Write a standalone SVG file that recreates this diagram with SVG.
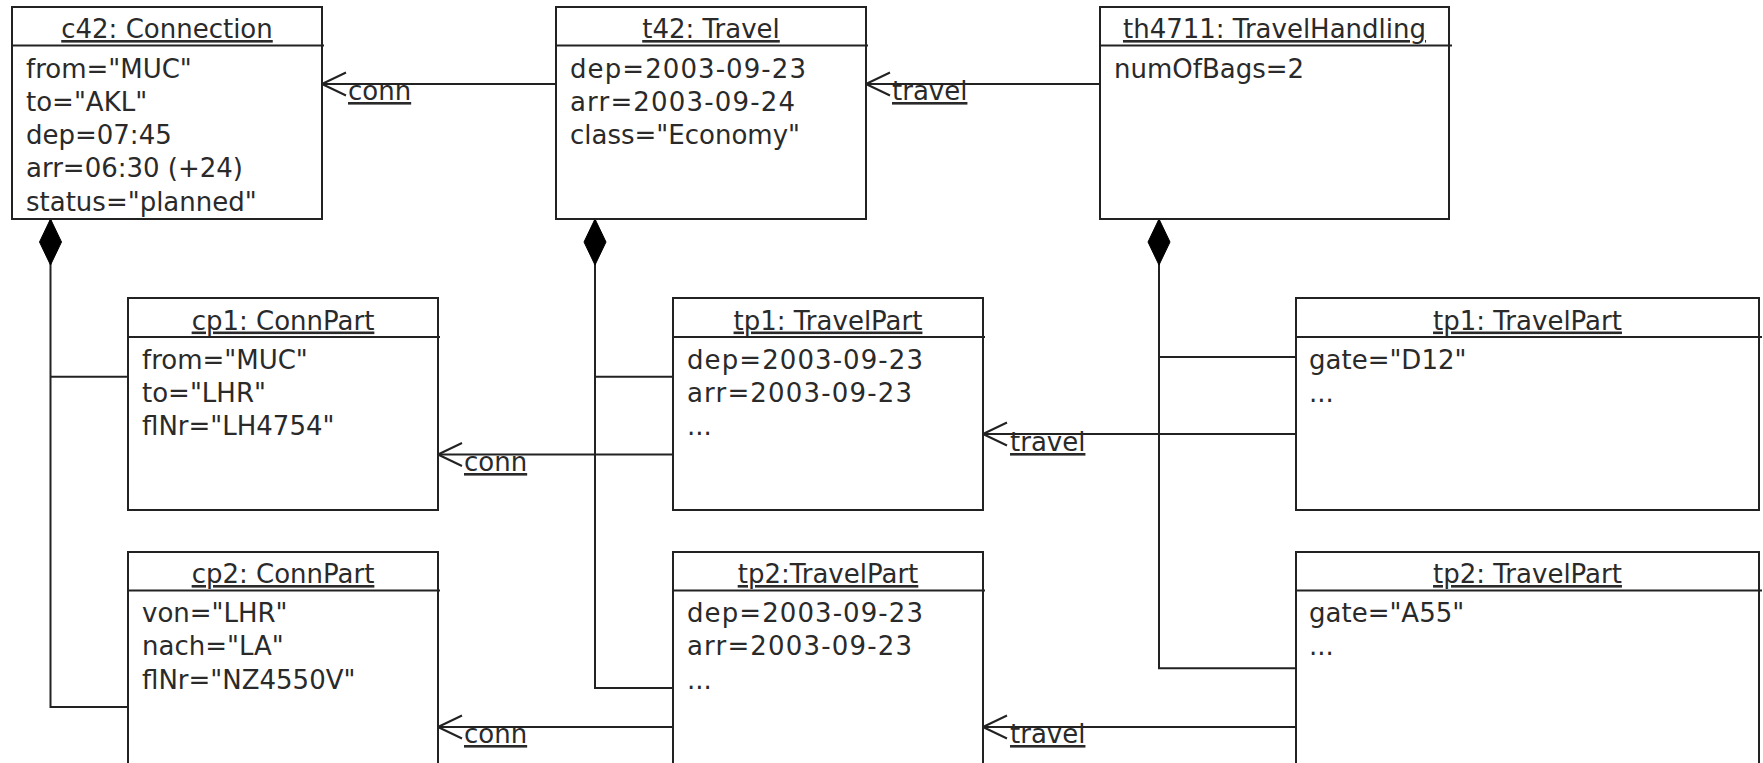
<svg xmlns="http://www.w3.org/2000/svg" width="1763" height="763" viewBox="0 0 1763 763">
<style>
  .box { fill: #ffffff; stroke: #222222; stroke-width: 2; }
  .sep { stroke: #222222; stroke-width: 2; }
  .title { font-family: "DejaVu Sans", "Liberation Sans", sans-serif; font-size: 26px; fill: #2a2a2a; text-anchor: middle; text-decoration: underline; }
  .attr { font-family: "DejaVu Sans", "Liberation Sans", sans-serif; font-size: 26px; fill: #2a2a2a; }
  .lbl { font-family: "DejaVu Sans", "Liberation Sans", sans-serif; font-size: 26px; fill: #2a2a2a; text-decoration: underline; }
  .edge { fill: none; stroke: #222222; stroke-width: 2; }
  .nav { marker-end: url(#open); }
  .comp { marker-start: url(#diamond); }
</style>
<defs>
  <marker id="open" markerUnits="userSpaceOnUse" markerWidth="30" markerHeight="30" viewBox="-28 -15 30 30" refX="0" refY="0" orient="auto">
    <path d="M-24,-11.5 L0,0 L-24,11.5" fill="none" stroke="#222222" stroke-width="2"/>
  </marker>
  <marker id="diamond" markerUnits="userSpaceOnUse" markerWidth="50" markerHeight="30" viewBox="-1 -15 50 30" refX="0" refY="0" orient="auto">
    <path d="M0,0 L23,-11 L46,0 L23,11 Z" fill="#000000" stroke="#000000" stroke-width="1"/>
  </marker>
</defs>
<rect x="0" y="0" width="1763" height="763" fill="#ffffff"/>

<g id="connectors">
  <path class="edge nav" d="M556,84 H322"/>
  <path class="edge nav" d="M1100,84 H866"/>
  <path class="edge nav" d="M673,454.5 H438"/>
  <path class="edge nav" d="M1296,434 H983"/>
  <path class="edge nav" d="M673,727 H438"/>
  <path class="edge nav" d="M1296,727 H983"/>
  <path class="edge comp" d="M50.5,219 V707 H137"/>
  <path class="edge" d="M50.5,376.7 H128"/>
  <path class="edge comp" d="M595,219 V688 H673"/>
  <path class="edge" d="M595,376.7 H673"/>
  <path class="edge comp" d="M1159,219 V668.3 H1296"/>
  <path class="edge" d="M1159,357 H1296"/>
  <text class="lbl" x="348" y="100">conn</text>
  <text class="lbl" x="892" y="100">travel</text>
  <text class="lbl" x="464" y="471">conn</text>
  <text class="lbl" x="1010" y="451">travel</text>
  <text class="lbl" x="464" y="743">conn</text>
  <text class="lbl" x="1010" y="743">travel</text>
</g>

<g id="c42">
  <rect class="box" x="12" y="7" width="310" height="212"/>
  <line class="sep" x1="12" y1="45.5" x2="324" y2="45.5"/>
  <text class="title" x="167" y="38">c42: Connection</text>
  <text class="attr" x="26" y="77.5">from="MUC"</text>
  <text class="attr" x="26" y="110.8">to="AKL"</text>
  <text class="attr" x="26" y="144.1">dep=07:45</text>
  <text class="attr" x="26" y="177.4">arr=06:30 (+24)</text>
  <text class="attr" x="26" y="210.7">status="planned"</text>
</g>

<g id="t42">
  <rect class="box" x="556" y="7" width="310" height="212"/>
  <line class="sep" x1="556" y1="45.5" x2="868" y2="45.5"/>
  <text class="title" x="711" y="38">t42: Travel</text>
  <text class="attr" x="570" y="77.5" textLength="236" lengthAdjust="spacing">dep=2003-09-23</text>
  <text class="attr" x="570" y="110.8" textLength="225" lengthAdjust="spacing">arr=2003-09-24</text>
  <text class="attr" x="570" y="144.1">class="Economy"</text>
</g>

<g id="th4711">
  <rect class="box" x="1100" y="7" width="349" height="212"/>
  <line class="sep" x1="1100" y1="45.5" x2="1452" y2="45.5"/>
  <text class="title" x="1274.5" y="38">th4711: TravelHandling</text>
  <text class="attr" x="1114" y="77.5">numOfBags=2</text>
</g>

<g id="cp1">
  <rect class="box" x="128" y="298" width="310" height="212"/>
  <line class="sep" x1="128" y1="337" x2="440" y2="337"/>
  <text class="title" x="283" y="329.5">cp1: ConnPart</text>
  <text class="attr" x="142" y="368.8">from="MUC"</text>
  <text class="attr" x="142" y="402.1">to="LHR"</text>
  <text class="attr" x="142" y="435.4">flNr="LH4754"</text>
</g>

<g id="tp1">
  <rect class="box" x="673" y="298" width="310" height="212"/>
  <line class="sep" x1="673" y1="337" x2="985" y2="337"/>
  <text class="title" x="828" y="329.5">tp1: TravelPart</text>
  <text class="attr" x="687" y="368.8" textLength="236" lengthAdjust="spacing">dep=2003-09-23</text>
  <text class="attr" x="687" y="402.1" textLength="225" lengthAdjust="spacing">arr=2003-09-23</text>
  <text class="attr" x="687" y="435.4">...</text>
</g>

<g id="tp1-handling">
  <rect class="box" x="1296" y="298" width="463" height="212"/>
  <line class="sep" x1="1296" y1="337" x2="1762" y2="337"/>
  <text class="title" x="1527.5" y="329.5">tp1: TravelPart</text>
  <text class="attr" x="1309" y="368.8">gate="D12"</text>
  <text class="attr" x="1309" y="402.1">...</text>
</g>

<g id="cp2">
  <rect class="box" x="128" y="552" width="310" height="214"/>
  <line class="sep" x1="128" y1="590.5" x2="440" y2="590.5"/>
  <text class="title" x="283" y="583">cp2: ConnPart</text>
  <text class="attr" x="142" y="622">von="LHR"</text>
  <text class="attr" x="142" y="655.3">nach="LA"</text>
  <text class="attr" x="142" y="688.6">flNr="NZ4550V"</text>
</g>

<g id="tp2">
  <rect class="box" x="673" y="552" width="310" height="214"/>
  <line class="sep" x1="673" y1="590.5" x2="985" y2="590.5"/>
  <text class="title" x="828" y="583">tp2:TravelPart</text>
  <text class="attr" x="687" y="622" textLength="236" lengthAdjust="spacing">dep=2003-09-23</text>
  <text class="attr" x="687" y="655.3" textLength="225" lengthAdjust="spacing">arr=2003-09-23</text>
  <text class="attr" x="687" y="688.6">...</text>
</g>

<g id="tp2-handling">
  <rect class="box" x="1296" y="552" width="463" height="214"/>
  <line class="sep" x1="1296" y1="590.5" x2="1762" y2="590.5"/>
  <text class="title" x="1527.5" y="583">tp2: TravelPart</text>
  <text class="attr" x="1309" y="622">gate="A55"</text>
  <text class="attr" x="1309" y="655.3">...</text>
</g>
</svg>
